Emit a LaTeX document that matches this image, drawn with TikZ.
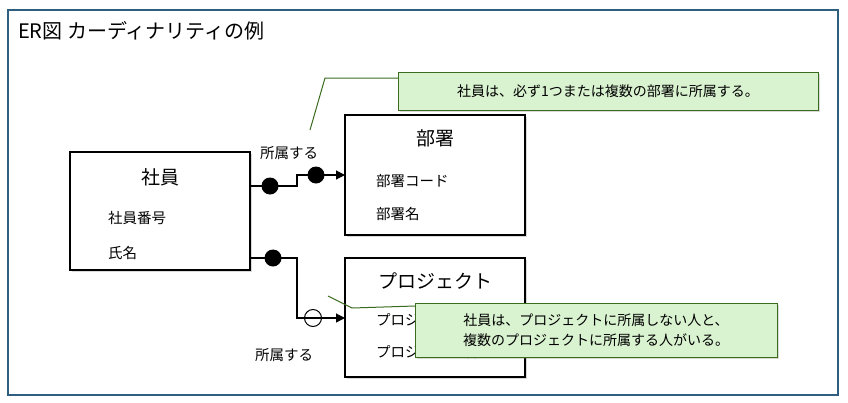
\documentclass[tikz,border=0pt]{standalone}
\usepackage{fontspec}
\setmainfont{Noto Sans CJK JP}
\usetikzlibrary{arrows.meta,shadows}
\definecolor{frame}{HTML}{2F5F7F}
\definecolor{cfill}{HTML}{D9F2D0}
\definecolor{cline}{HTML}{3A6B1E}
\tikzset{
 ent/.style={draw,line width=1.3pt,fill=white,drop shadow={shadow xshift=2pt,shadow yshift=-2pt,opacity=0.3}},
 lbl/.style={font=\fontsize{14.5}{17}\selectfont,anchor=west,inner sep=0},
 ttl/.style={font=\fontsize{19}{22}\selectfont,inner sep=0},
 conn/.style={line width=1.2pt},
 dot/.style={circle,fill=black,minimum size=17pt,inner sep=0},
 odot/.style={circle,draw,fill=white,line width=1pt,minimum size=17pt,inner sep=0},
 call/.style={draw=cline,fill=cfill,line width=1pt,align=center,font=\fontsize{14}{20}\selectfont,drop shadow={shadow xshift=2pt,shadow yshift=-2pt,opacity=0.3}},
 lead/.style={draw=cline,line width=1pt}
}
\begin{document}
\begin{tikzpicture}[x=1pt,y=-1pt]
\useasboundingbox (0,0) rectangle (848,402);
\draw[frame,line width=1.2pt] (8,10) rectangle (838,395);
\node[anchor=west,inner sep=0,font=\fontsize{20}{24}\selectfont] (title) at (18,31) {ER図 カーディナリティの例};
% entities
\draw[ent] (70,152) rectangle (250,270);
\node[ttl] (emp) at (160,177) {社員};
\node[lbl] (e1) at (108,218) {社員番号};
\node[lbl] (e2) at (108,253) {氏名};
\draw[ent] (345,115) rectangle (525,235);
\node[ttl] (dep) at (435,138) {部署};
\node[lbl] (d1) at (376,181) {部署コード};
\node[lbl] (d2) at (376,214) {部署名};
\draw[ent] (345,258) rectangle (525,377);
\node[ttl] (prj) at (435,281) {プロジェクト};
\node[lbl] (p1) at (376,320) {プロジェクトコード};
\node[lbl] (p2) at (376,352) {プロジェクト名};
% connectors
\coordinate (a0) at (250,186); \coordinate (a1) at (345,175);
\draw[conn,-{Triangle[length=9pt,width=9pt]}] (a0) -- (297,186) -- (297,175) -- (a1);
\node[dot] (da) at (270,186) {};
\node[dot] (db) at (316,175) {};
\node[lbl] (l1) at (260,153) {所属する};
\coordinate (b0) at (250,258); \coordinate (b1) at (345,318);
\draw[conn,-{Triangle[length=9pt,width=9pt]}] (b0) -- (297,258) -- (297,318) -- (b1);
\node[dot] (dc) at (273,258) {};
\node[odot] (dd) at (313,318) {};
\draw[conn] (dd.west) -- (dd.east);
\node[lbl] (l2) at (255,355) {所属する};
% callouts
\draw[lead] (310,130) -- (325,78) -- (398,78);
\node[call,minimum width=420pt,minimum height=38pt] (c1) at (608,91) {社員は、必ず1つまたは複数の部署に所属する。};
\draw[lead] (328,296) -- (352,308) -- (415,306);
\node[call,minimum width=362pt,minimum height=54pt] (c2) at (596,330) {社員は、プロジェクトに所属しない人と、\\複数のプロジェクトに所属する人がいる。};
\end{tikzpicture}
\end{document}
